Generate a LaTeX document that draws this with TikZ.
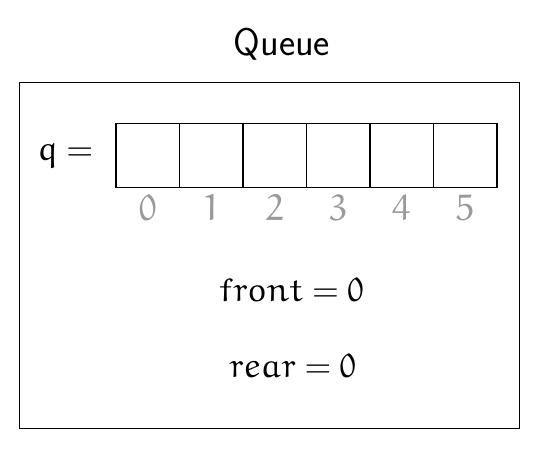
\documentclass[tikz,border=0pt]{standalone}
\usepackage{euler}
\usepackage{tikz}
\usetikzlibrary{positioning}
\definecolor{indexGray}{HTML}{9A9A9A}

\begin{document}
\begin{tikzpicture}[
  cell/.style={
    rectangle, draw=black, line width=0.5pt,
    minimum size=1cm, inner sep=0pt, outer sep=0pt
  },
  idx/.style={
    font=\fontsize{16.5}{19}\selectfont, text=indexGray
  },
  varlabel/.style={
    font=\fontsize{15.2}{18}\selectfont, inner sep=1pt
  },
]
\useasboundingbox (0,0) rectangle (8.772,-7.134);

% === Title ===
\node[font=\sffamily\LARGE] (title) at (4.44,-0.70) {Queue};

% === Frame ===
\draw[line width=0.5pt] (0.304,-1.296) rectangle (8.178,-6.745);

% === Array cells ===
\node[cell] (cell0) at (2.327,-2.449) {};
\foreach \i [remember=\i as \j (initially 0)] in {1,...,5} {
  \node[cell, right=0pt of cell\j] (cell\i) {};
}
\foreach \i in {0,...,5} {
  \node[idx, below=0pt of cell\i] (idx\i) {$\i$};
}

% === Labels ===
\node[varlabel, left=0.33cm of cell0] (qlabel) {$q =$};
\node[varlabel] (front) at (4.59,-4.57) {$front = 0$};
\node[varlabel] (rear) at (4.61,-5.76) {$rear = 0$};

\end{tikzpicture}
\end{document}
